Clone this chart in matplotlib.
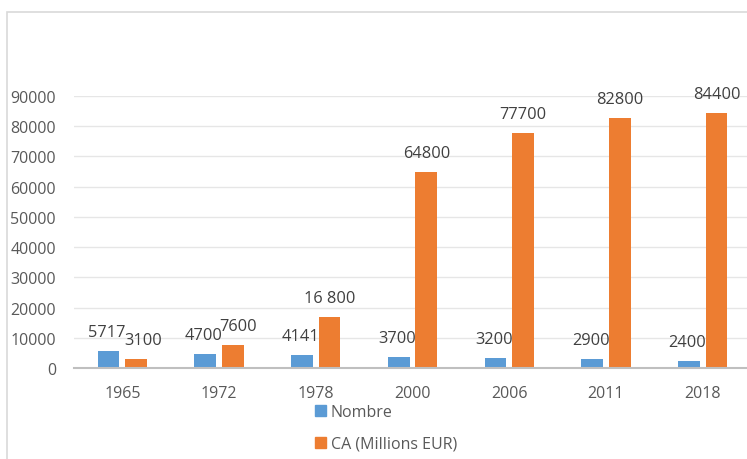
import numpy as np
import matplotlib.pyplot as plt
from matplotlib.patches import Rectangle, Patch

years = ["1965", "1972", "1978", "2000", "2006", "2011", "2018"]
nombre = [5717, 4700, 4141, 3700, 3200, 2900, 2400]
ca = [3100, 7600, 16800, 64800, 77700, 82800, 84400]
ca_labels = ["3100", "7600", "16 800", "64800", "77700", "82800", "84400"]
nombre_labels = [str(v) for v in nombre]

blue = "#5B9BD5"
orange = "#ED7D31"
grey_txt = "#595959"

plt.rcParams['font.family'] = ['Open Sans', 'DejaVu Sans']

fig = plt.figure(figsize=(7.47, 4.6), dpi=100)
# outer chart frame (only top and left visible in the crop)
fig.patches.append(Rectangle((7 / 747, -0.1), 1.2, (460 - 13) / 460 + 0.1,
                             transform=fig.transFigure, fill=False,
                             edgecolor="#D9D9D9", linewidth=1.2))

ax = fig.add_axes([74 / 747, (460 - 369) / 460, (751 - 74) / 747, (369 - 97) / 460])
x = np.arange(len(years))
w = 0.225
b1 = ax.bar(x - 0.143, nombre, w, color=blue)
b2 = ax.bar(x + 0.143, ca, w, color=orange)

# small nudges so the crowded labels in the first groups stay readable
ca_dx = [5, 4, 0, 0, 0, 0, 0]
for rect, lab in zip(b1, nombre_labels):
    ax.annotate(lab, (rect.get_x() + rect.get_width() / 2, rect.get_height()),
                xytext=(-1, 8), textcoords="offset points", ha="center",
                va="bottom", fontsize=11.8, color="#404040")
for rect, lab, dx in zip(b2, ca_labels, ca_dx):
    ax.annotate(lab, (rect.get_x() + rect.get_width() / 2, rect.get_height()),
                xytext=(dx, 8), textcoords="offset points", ha="center",
                va="bottom", fontsize=11.8, color="#404040")

ax.set_xlim(-0.5, len(years) - 0.5)
ax.set_ylim(0, 90000)
ax.set_yticks(np.arange(0, 90001, 10000))
ax.set_xticks(x)
ax.set_xticklabels(years)
ax.yaxis.grid(True, color="#E6E6E6", linewidth=1)
ax.set_axisbelow(True)
for s in ["top", "right", "left"]:
    ax.spines[s].set_visible(False)
ax.spines["bottom"].set_color("#BFBFBF")
ax.spines["bottom"].set_linewidth(1.5)
ax.tick_params(axis="both", length=0, labelsize=11.5, colors=grey_txt)
ax.tick_params(axis="y", pad=13)
ax.tick_params(axis="x", pad=12)

handles = [Patch(color=blue), Patch(color=orange)]
fig.legend(handles, ["Nombre", "CA (Millions EUR)"], loc="upper left",
           bbox_to_anchor=(315 / 747, 1 - 405 / 460), frameon=False,
           handlelength=0.7, handleheight=0.7, handletextpad=0.3,
           labelspacing=1.0, fontsize=11.5, labelcolor=grey_txt,
           borderaxespad=0, borderpad=0)

fig.savefig("out.png", dpi=100)
